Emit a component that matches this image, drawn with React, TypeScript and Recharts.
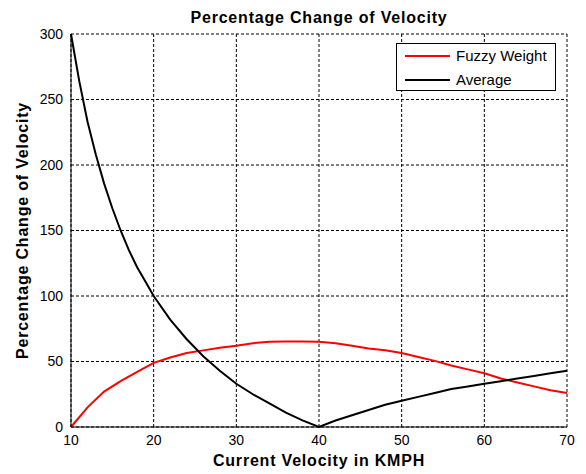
import React from "react";
import { LineChart, Line, CartesianGrid, XAxis, YAxis } from "recharts";

// current velocity (KMPH) sample points for each method
const fuzzyVelocity = [10, 12, 14, 16, 18, 20, 22, 24, 26, 28, 30, 32, 34, 36, 38, 40, 42, 44, 46, 48, 50, 52, 54, 56, 58, 60, 62, 64, 66, 68, 70];
const fuzzyWeight = [0, 15, 27, 35, 42, 49, 53, 56.5, 58.5, 60.5, 62, 64, 65, 65.3, 65.3, 65, 64, 62, 60, 58.5, 56.5, 53.5, 50.5, 47, 44, 41, 37, 34, 31, 28, 26];

const averageVelocity = [10, 11, 12, 13, 14, 15, 16, 17, 18, 19, 20, 22, 24, 26, 28, 30, 32, 34, 36, 38, 40, 42, 44, 46, 48, 50, 52, 54, 56, 58, 60, 62, 64, 66, 68, 70];
const averageChange = [300, 264, 233, 208, 186, 167, 150, 135, 122, 111, 100, 82, 67, 54, 43, 33, 25, 18, 11, 5, 0, 5, 9, 13, 17, 20, 23, 26, 29, 31, 33, 35, 37, 39, 41, 43];

const xTicks = [10, 20, 30, 40, 50, 60, 70];
const yTicks = [0, 50, 100, 150, 200, 250, 300];

const fuzzyData = fuzzyVelocity.map((v, i) => ({ v, pct: fuzzyWeight[i] }));
const averageData = averageVelocity.map((v, i) => ({ v, pct: averageChange[i] }));

const FONT = "'Liberation Sans', Arial, sans-serif";
const titleStyle = { fontFamily: FONT, fontSize: 16, fontWeight: 700, letterSpacing: 0.8, fill: "#000" };

function YTitle({ viewBox }: any) {
  const x = viewBox.x + 22;
  const y = viewBox.y + viewBox.height / 2;
  return (
    <text x={x} y={y} transform={`rotate(-90, ${x}, ${y})`} textAnchor="middle" dominantBaseline="central" style={titleStyle}>
      Percentage Change of Velocity
    </text>
  );
}

function XTitle({ viewBox }: any) {
  const x = viewBox.x + viewBox.width / 2;
  const y = viewBox.y + 33;
  return (
    <text x={x} y={y} textAnchor="middle" dominantBaseline="central" style={titleStyle}>
      Current Velocity in KMPH
    </text>
  );
}

const legendItems = [
  { name: "Fuzzy Weight", color: "#ff0000" },
  { name: "Average", color: "#000000" },
];

export default function App() {
  return (
    <div style={{ position: "absolute", left: 0, top: 0, width: 586, height: 474, background: "#fff" }}>
      <div
        style={{
          position: "absolute",
          left: 71,
          width: 496,
          top: 9,
          textAlign: "center",
          fontFamily: FONT,
          fontSize: 16,
          fontWeight: 700,
          letterSpacing: 0.8,
          lineHeight: "18px",
          color: "#000",
        }}
      >
        Percentage Change of Velocity
      </div>
      <LineChart width={586} height={474} margin={{ top: 34, right: 19, bottom: 0, left: 0 }}>
        <CartesianGrid stroke="#000" strokeDasharray="3 2" />
        <XAxis
          dataKey="v"
          type="number"
          domain={[10, 70]}
          ticks={xTicks}
          height={47}
          allowDuplicatedCategory={false}
          axisLine={{ stroke: "#000" }}
          tickLine={false}
          tickMargin={2}
          tick={{ fill: "#000", fontSize: 14, fontFamily: FONT }}
          label={<XTitle />}
        />
        <XAxis xAxisId="top" orientation="top" type="number" domain={[10, 70]} height={0} tick={false} tickLine={false} axisLine={{ stroke: "#000" }} />
        <YAxis
          type="number"
          domain={[0, 300]}
          ticks={yTicks}
          width={71}
          axisLine={{ stroke: "#000" }}
          tickLine={false}
          tickMargin={2}
          tick={{ fill: "#000", fontSize: 14, fontFamily: FONT }}
          label={<YTitle />}
        />
        <YAxis yAxisId="right" orientation="right" domain={[0, 300]} width={0} tick={false} tickLine={false} axisLine={{ stroke: "#000" }} />
        <Line data={fuzzyData} dataKey="pct" name="Fuzzy Weight" type="linear" stroke="#ff0000" strokeWidth={2} dot={false} isAnimationActive={false} />
        <Line data={averageData} dataKey="pct" name="Average" type="linear" stroke="#000000" strokeWidth={2} dot={false} isAnimationActive={false} />
      </LineChart>
      {/* legend box, top right inside the axes */}
      <div
        style={{
          position: "absolute",
          left: 396,
          top: 43,
          width: 158,
          height: 46,
          border: "1px solid #000",
          background: "#fff",
          fontFamily: FONT,
          fontSize: 15,
          color: "#000",
        }}
      >
        {legendItems.map((item, i) => (
          <div key={item.name} style={{ position: "absolute", left: 8, top: 3 + i * 24, height: 18, display: "flex", alignItems: "center" }}>
            <div style={{ width: 45, height: 2, background: item.color, marginRight: 6 }} />
            <span style={{ lineHeight: "18px" }}>{item.name}</span>
          </div>
        ))}
      </div>
    </div>
  );
}
